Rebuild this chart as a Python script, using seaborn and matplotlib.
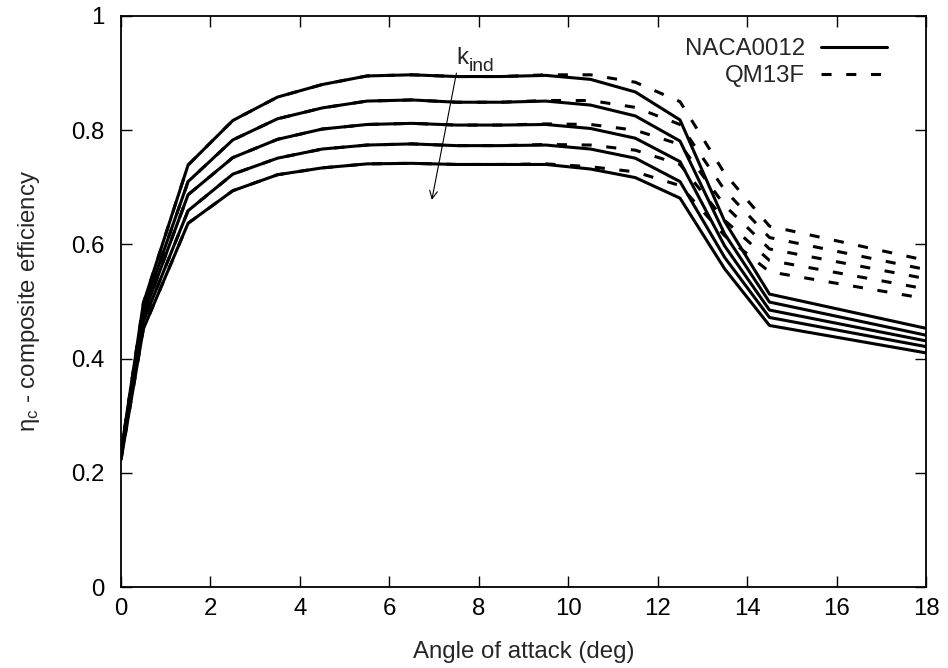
import matplotlib
matplotlib.use("Agg")
import matplotlib.pyplot as plt
from matplotlib.lines import Line2D
import pandas as pd
import seaborn as sns

# Angle of attack (deg)
angle = [0, 0.5, 1.5, 2.5, 3.5, 4.5, 5.5, 6.5, 7.5, 8.5, 9.5,
         10.5, 11.5, 12.5, 13.5, 14.5, 18]

# Composite efficiency, NACA0012, one list per k_ind value (increasing k_ind)
naca_k1 = [0.235, 0.497, 0.739, 0.817, 0.858, 0.880, 0.895, 0.897, 0.894, 0.894, 0.896,
           0.889, 0.867, 0.818, 0.640, 0.513, 0.453]
naca_k2 = [0.232, 0.487, 0.710, 0.783, 0.820, 0.839, 0.851, 0.853, 0.849, 0.849, 0.851,
           0.844, 0.825, 0.781, 0.618, 0.499, 0.441]
naca_k3 = [0.229, 0.476, 0.687, 0.752, 0.784, 0.802, 0.810, 0.812, 0.809, 0.809, 0.810,
           0.803, 0.786, 0.745, 0.597, 0.485, 0.431]
naca_k4 = [0.226, 0.465, 0.659, 0.723, 0.751, 0.767, 0.774, 0.776, 0.773, 0.773, 0.774,
           0.767, 0.751, 0.710, 0.577, 0.472, 0.421]
naca_k5 = [0.223, 0.452, 0.637, 0.694, 0.722, 0.734, 0.741, 0.742, 0.740, 0.740, 0.740,
           0.732, 0.717, 0.681, 0.557, 0.458, 0.410]

# Composite efficiency, QM13F
qm_k1 = [0.235, 0.497, 0.739, 0.817, 0.858, 0.880, 0.895, 0.897, 0.894, 0.894, 0.897,
         0.897, 0.884, 0.850, 0.724, 0.632, 0.572]
qm_k2 = [0.232, 0.487, 0.710, 0.783, 0.820, 0.839, 0.851, 0.853, 0.849, 0.849, 0.852,
         0.852, 0.840, 0.810, 0.695, 0.612, 0.556]
qm_k3 = [0.229, 0.476, 0.687, 0.752, 0.784, 0.802, 0.810, 0.812, 0.809, 0.809, 0.811,
         0.810, 0.800, 0.775, 0.668, 0.592, 0.540]
qm_k4 = [0.226, 0.465, 0.659, 0.723, 0.751, 0.767, 0.774, 0.776, 0.773, 0.773, 0.775,
         0.774, 0.765, 0.740, 0.642, 0.572, 0.522]
qm_k5 = [0.223, 0.452, 0.637, 0.694, 0.722, 0.734, 0.741, 0.742, 0.740, 0.740, 0.741,
         0.736, 0.727, 0.703, 0.615, 0.552, 0.505]

series = {
    "NACA0012": [naca_k1, naca_k2, naca_k3, naca_k4, naca_k5],
    "QM13F": [qm_k1, qm_k2, qm_k3, qm_k4, qm_k5],
}

xticks = [0, 2, 4, 6, 8, 10, 12, 14, 16, 18]
yticks = [0, 0.2, 0.4, 0.6, 0.8, 1]
yticklabels = ["0", "0.2", "0.4", "0.6", "0.8", "1"]

rows = []
for airfoil, curves in series.items():
    for k, vals in enumerate(curves, start=1):
        for a, v in zip(angle, vals):
            rows.append({"angle": a, "eff": v, "airfoil": airfoil, "k": k})
df = pd.DataFrame(rows)

sns.set_style("ticks")
plt.rcParams["font.family"] = ["Liberation Sans", "DejaVu Sans"]
plt.rcParams["mathtext.default"] = "regular"

FS = 17.3
LW = 2.2
dash_pattern = (3.3, 4.8)

fig = plt.figure(figsize=(9.48, 6.68), dpi=100)
ax = fig.add_axes([121 / 948, 1 - 587 / 668, 805 / 948, 571 / 668])

sns.lineplot(data=df, x="angle", y="eff", units="k", estimator=None,
             style="airfoil", dashes={"NACA0012": "", "QM13F": dash_pattern},
             color="black", linewidth=LW, legend=False, ax=ax, sort=False)

ax.set_xlim(0, 18)
ax.set_ylim(0, 1)
ax.set_xticks(xticks)
ax.set_xticklabels([str(t) for t in xticks])
ax.set_yticks(yticks)
ax.set_yticklabels(yticklabels)
ax.tick_params(direction="in", length=8, width=1, colors="black",
               top=True, right=True, labelsize=FS)
ax.tick_params(axis="x", pad=8)
ax.tick_params(axis="y", pad=12)
for sp in ax.spines.values():
    sp.set_linewidth(1.3)
    sp.set_color("black")

ax.set_xlabel("Angle of attack (deg)", fontsize=FS, labelpad=15)
ax.set_ylabel("η$_{c}$ - composite efficiency", fontsize=FS, labelpad=21)

# Direction of increasing k_ind
ax.annotate("", xy=(6.95, 0.678), xytext=(7.5, 0.9),
            arrowprops=dict(arrowstyle="->", color="black", lw=0.8,
                            mutation_scale=14, shrinkA=0, shrinkB=0))
ax.text(7.5, 0.916, "k", fontsize=FS, ha="left", va="baseline")
ax.annotate("ind", xy=(7.5, 0.916), xytext=(9.0, -5.0), textcoords="offset points",
            fontsize=FS * 0.8, ha="left", va="baseline")

handles = [Line2D([], [], color="black", lw=LW),
           Line2D([], [], color="black", lw=LW, dashes=dash_pattern)]
ax.legend(handles, list(series.keys()), loc="upper right",
          bbox_to_anchor=((887 - 121) / 805, (587 - 38) / 571),
          frameon=False, fontsize=FS, markerfirst=False,
          handlelength=2.75, handletextpad=0.65, labelspacing=0.22,
          borderpad=0, borderaxespad=0)

fig.savefig("out.png", dpi=100)
